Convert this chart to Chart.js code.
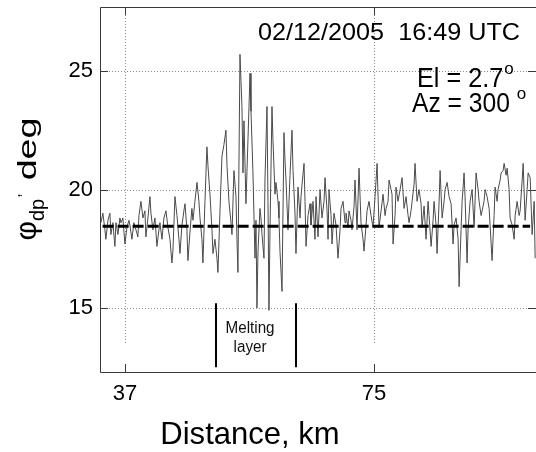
<!DOCTYPE html>
<html><head><meta charset="utf-8">
<script src="https://cdn.jsdelivr.net/npm/chart.js@4/dist/chart.umd.min.js"></script>
<style>html,body{margin:0;padding:0;background:#fff;}#wrap{width:536px;height:452px;}</style>
</head><body><div id="wrap"><canvas id="c" width="536" height="452"></canvas></div>
<script>
// Range gates (km) and differential phase (deg)
const distanceKm = [
33.34,33.64,33.95,34.10,34.41,34.71,34.86,35.17,35.47,35.63,35.93,36.24,36.39,36.69,37.00,37.31,37.61,37.76,38.07,38.37,38.68,38.98,39.14,39.44,39.75,40.05,40.20,40.51,40.82,40.97,41.27,41.58,41.88,42.19,42.34,42.65,42.95,43.26,43.56,43.87,44.17,
44.32,44.63,44.94,45.24,45.39,45.70,46.00,46.16,46.46,46.61,46.92,47.22,47.38,47.68,47.99,48.29,48.45,48.75,48.90,49.21,49.51,49.67,49.97,50.28,50.43,50.73,51.04,51.19,51.50,51.80,52.11,52.41,52.57,52.87,53.18,53.33,53.63,53.94,54.09,54.24,54.55,54.70,54.85,55.01,55.16,55.46,55.77,56.08,56.23,56.53,56.84,56.99,57.14,57.30,57.60,57.75,57.91,58.21,58.36,58.67,58.82,58.97,59.13,59.43,59.58,59.89,60.04,60.35,60.50,60.65,60.96,61.26,61.42,61.57,61.87,62.03,62.18,62.48,62.64,62.94,63.09,63.40,63.71,63.86,64.01,64.32,64.47,64.62,64.93,65.23,65.38,65.69,65.99,66.15,
66.45,66.76,67.06,67.37,67.52,67.83,67.98,68.13,68.44,68.59,68.89,69.20,69.50,69.81,69.96,70.27,70.57,70.72,71.03,71.18,71.49,71.64,71.95,72.10,72.40,72.71,73.01,73.32,73.47,73.78,73.93,74.23,74.54,74.84,75.15,75.46,75.76,76.07,76.37,76.68,76.83,77.13,77.29,77.59,
77.74,77.90,78.20,78.35,78.66,78.97,79.27,79.58,79.88,80.19,80.34,80.64,80.80,81.10,81.25,81.56,81.86,82.17,82.32,82.63,82.93,83.24,83.39,83.70,84.00,84.15,84.46,84.61,84.92,85.07,85.38,85.68,85.83,86.14,86.44,86.75,87.05,87.21,87.51,87.82,87.97,88.27,88.43,88.73,
88.88,89.19,89.34,89.65,89.95,90.26,90.56,90.87,91.02,91.33,91.48,91.78,91.94,92.24,92.55,92.70,93.00,93.31,93.46,93.77,93.92,94.23,94.38,94.68,94.84,95.14,95.30,95.60,95.75,96.06,96.37,96.52,96.82,97.13,97.28,97.59,97.74,98.04,98.35,98.50,98.81,99.11,99.42,99.57
];
const phidpDeg = [
18.6,19.0,18.3,17.9,18.7,19.0,18.1,18.6,17.6,18.6,18.1,18.8,18.6,18.8,17.7,18.4,18.7,18.5,17.9,18.6,18.3,18.0,18.9,19.5,18.8,19.1,18.0,18.8,19.7,19.0,18.3,18.8,17.6,18.3,18.6,17.9,18.8,19.1,18.4,17.9,16.9,
17.4,19.7,18.9,17.9,17.3,18.5,19.1,19.4,18.3,17.0,18.2,19.2,18.7,19.5,20.3,19.5,18.8,17.9,16.9,19.5,21.8,21.0,19.8,18.3,17.3,17.9,17.1,16.5,19.1,21.4,21.9,22.5,21.0,19.5,18.6,18.1,20.8,19.7,17.9,16.5,25.7,24.6,23.5,20.7,22.9,19.4,22.1,24.9,23.3,20.7,17.1,18.7,15.0,17.4,19.2,18.8,18.1,17.1,20.4,23.5,19.5,14.9,18.3,23.5,22.1,19.8,20.3,19.5,18.8,17.4,15.7,22.4,21.2,20.4,18.3,19.5,20.6,22.5,20.8,19.0,17.3,20.1,18.8,19.7,20.2,21.1,19.5,17.6,18.9,19.4,18.5,19.5,17.9,19.7,
18.0,20.0,18.8,19.5,20.5,19.1,17.9,20.0,18.9,17.7,19.0,18.5,17.1,18.3,19.2,19.5,18.6,19.0,18.4,19.1,18.7,18.3,19.3,20.4,18.3,20.9,18.6,17.9,17.4,18.5,19.1,19.5,18.9,18.4,19.7,21.1,18.4,19.1,19.8,18.9,19.2,19.5,20.4,20.0,
19.8,17.7,18.9,20.1,19.5,20.0,20.5,19.2,19.7,18.9,18.6,19.1,19.5,20.2,21.1,19.5,20.0,19.4,18.4,19.3,17.9,19.5,18.9,17.6,18.7,19.5,18.5,17.3,19.5,20.8,18.8,19.5,20.0,20.3,19.7,19.4,17.7,18.5,18.8,17.9,15.9,18.3,19.5,20.7,
19.7,16.9,18.3,19.5,20.0,18.4,20.7,20.0,19.5,18.9,19.1,19.5,20.0,19.7,19.2,18.5,17.0,18.9,20.1,19.5,20.0,20.4,20.7,20.8,21.1,20.6,20.9,20.0,18.8,18.5,17.9,18.9,19.5,18.9,19.1,20.4,21.1,18.7,20.0,20.7,20.5,18.1,19.5,17.1
];
// Mean (dashed) line
const meanDistanceKm = [33.6, 98.8];
const meanPhidpDeg = [18.45, 18.45];
// Axis ticks
const xTickValues = [37, 75];
const yTickValues = [15, 20, 25];
const xRange = [33.2, 99.7];
const yRange = [12.3, 27.7];
// Melting layer annotation
const meltingLayerKm = [50.9, 63.1];
const meltingBarDeg = [12.5, 15.2];
const meltingLabel = ['Melting', 'layer'];
const headerText = '02/12/2005  16:49 UTC';
const elText = 'El = 2.7';
const azText = 'Az = 300 ';
const xTitle = 'Distance, km';
const yTitleMain = '\u03C6';
const yTitleSub = 'dp';
const yTitleRest = ' deg';

const FF = '"Liberation Sans", Arial, sans-serif';

function stxt(ctx, t, x, y, size, sx, align) {
  ctx.save();
  ctx.font = size + 'px ' + FF;
  ctx.textBaseline = 'alphabetic';
  const w = ctx.measureText(t).width * sx;
  let x0 = x;
  if (align === 'center') x0 = x - w / 2;
  else if (align === 'right') x0 = x - w;
  ctx.translate(x0, y);
  ctx.scale(sx, 1);
  ctx.textAlign = 'left';
  ctx.fillText(t, 0, 0);
  ctx.restore();
  return w;
}

const decor = {
  id: 'decor',
  beforeDatasetsDraw(chart) {
    const {ctx, chartArea: a, scales: {x, y}} = chart;
    ctx.save();
    // dotted grid
    ctx.strokeStyle = '#8a8a8a';
    ctx.lineWidth = 1;
    ctx.setLineDash([1, 2]);
    yTickValues.forEach(v => {
      const py = Math.round(y.getPixelForValue(v)) + 0.5;
      ctx.beginPath(); ctx.moveTo(a.left + 9, py); ctx.lineTo(a.right - 9, py); ctx.stroke();
    });
    xTickValues.forEach(v => {
      const px = Math.round(x.getPixelForValue(v)) + 0.5;
      ctx.beginPath(); ctx.moveTo(px, a.top + 8); ctx.lineTo(px, a.bottom - 27); ctx.stroke();
    });
    ctx.setLineDash([]);
    // frame
    ctx.strokeStyle = '#3a3a3a';
    ctx.beginPath();
    ctx.moveTo(a.right + 2, a.top + 0.5); ctx.lineTo(a.left + 0.5, a.top + 0.5);
    ctx.lineTo(a.left + 0.5, a.bottom + 0.5); ctx.lineTo(a.right + 2, a.bottom + 0.5);
    ctx.stroke();
    // inward ticks
    ctx.beginPath();
    yTickValues.forEach(v => {
      const py = Math.round(y.getPixelForValue(v)) + 0.5;
      ctx.moveTo(a.left, py); ctx.lineTo(a.left + 8, py);
      ctx.moveTo(a.right - 8, py); ctx.lineTo(a.right, py);
    });
    xTickValues.forEach(v => {
      const px = Math.round(x.getPixelForValue(v)) + 0.5;
      ctx.moveTo(px, a.bottom); ctx.lineTo(px, a.bottom - 8);
      ctx.moveTo(px, a.top); ctx.lineTo(px, a.top + 8);
    });
    ctx.stroke();
    ctx.restore();
  },
  afterDatasetsDraw(chart) {
    const {ctx, chartArea: a, scales: {x, y}} = chart;
    ctx.save();
    ctx.fillStyle = '#000';
    // melting layer bars
    ctx.strokeStyle = '#000';
    ctx.lineWidth = 2;
    const y1 = y.getPixelForValue(meltingBarDeg[0]);
    const y2 = y.getPixelForValue(meltingBarDeg[1]);
    meltingLayerKm.forEach(k => {
      const px = Math.round(x.getPixelForValue(k));
      ctx.beginPath(); ctx.moveTo(px, y1); ctx.lineTo(px, y2); ctx.stroke();
    });
    const mx = (x.getPixelForValue(meltingLayerKm[0]) + x.getPixelForValue(meltingLayerKm[1])) / 2 - 6;
    ctx.fillStyle = '#111';
    stxt(ctx, meltingLabel[0], mx, y2 + 30, 16, 0.95, 'center');
    stxt(ctx, meltingLabel[1], mx, y2 + 49, 16, 0.95, 'center');
    ctx.fillStyle = '#000';
    // header annotations
    stxt(ctx, headerText, 258, 40, 24, 1.05, 'left');
    let w = stxt(ctx, elText, 417, 87, 28, 0.9, 'left');
    stxt(ctx, 'o', 417 + w + 1, 74, 17, 1, 'left');
    w = stxt(ctx, azText, 412, 112, 28, 0.88, 'left');
    stxt(ctx, 'o', 412 + w, 99, 17, 1, 'left');
    // x title
    stxt(ctx, xTitle, 250, 444, 32, 0.97, 'center');
    // y title (rotated, reads bottom-to-top)
    ctx.save();
    ctx.translate(36, 179);
    ctx.rotate(-Math.PI / 2);
    ctx.font = '30px ' + FF;
    const wPhi = ctx.measureText(yTitleMain).width;
    ctx.font = '20px ' + FF;
    const wSub = ctx.measureText(yTitleSub).width;
    ctx.font = '26px ' + FF;
    const wRest = ctx.measureText(yTitleRest).width * 1.45;
    const total = wPhi + wSub + 8 + wRest;
    let cx = -total / 2;
    ctx.font = '30px ' + FF;
    ctx.fillText(yTitleMain, cx, 0); cx += wPhi;
    ctx.font = '20px ' + FF;
    ctx.fillText(yTitleSub, cx, 8); cx += wSub;
    ctx.font = '16px ' + FF;
    ctx.fillText(',', cx + 1, -16); cx += 8;
    ctx.save();
    ctx.translate(cx, 0); ctx.scale(1.45, 1);
    ctx.font = '26px ' + FF;
    ctx.fillText(yTitleRest, 0, 0);
    ctx.restore();
    ctx.restore();
    ctx.restore();
  }
};

function noPad(s) { s.paddingTop = 0; s.paddingBottom = 0; s.paddingLeft = 0; s.paddingRight = 0; }

new Chart(document.getElementById('c'), {
  type: 'line',
  data: {
    datasets: [
      {
        data: meanDistanceKm.map((d, i) => ({x: d, y: meanPhidpDeg[i]})),
        borderColor: '#000', borderWidth: 3, borderDash: [11, 4],
        pointRadius: 0, fill: false, order: 0
      },
      {
        data: distanceKm.map((d, i) => ({x: d, y: phidpDeg[i]})),
        borderColor: '#4a4a4a', borderWidth: 1,
        pointRadius: 0, fill: false, tension: 0, order: 1
      }
    ]
  },
  options: {
    responsive: false, animation: false,
    layout: {padding: {top: 7, left: 0, right: 0, bottom: 0}},
    plugins: {legend: {display: false}, tooltip: {enabled: false}},
    scales: {
      x: {
        type: 'linear', min: xRange[0], max: xRange[1],
        afterBuildTicks: s => { s.ticks = xTickValues.map(v => ({value: v})); },
        afterFit: s => { s.height = 80; noPad(s); },
        grid: {display: false, drawTicks: false},
        border: {display: false},
        ticks: {color: '#000', font: {size: 22, family: FF}, padding: 9, maxRotation: 0, autoSkip: false}
      },
      y: {
        type: 'linear', min: yRange[0], max: yRange[1],
        afterBuildTicks: s => { s.ticks = yTickValues.map(v => ({value: v})); },
        afterFit: s => { s.width = 100; noPad(s); },
        grid: {display: false, drawTicks: false},
        border: {display: false},
        ticks: {color: '#000', font: {size: 22, family: FF}, padding: 7}
      }
    }
  },
  plugins: [decor]
});
</script></body></html>
